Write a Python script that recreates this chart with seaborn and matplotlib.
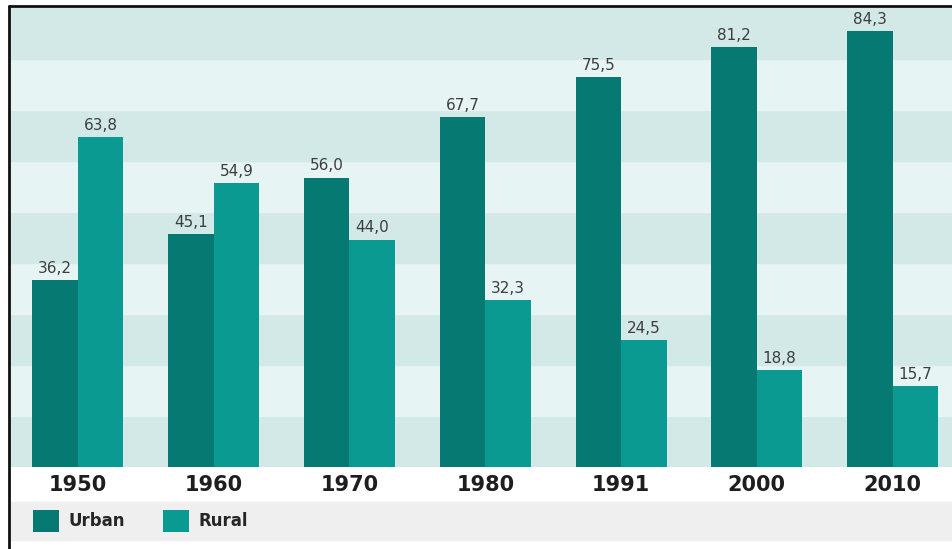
import numpy as np
import pandas as pd
import seaborn as sns
import matplotlib.pyplot as plt
from matplotlib.patches import Rectangle
from matplotlib.lines import Line2D

years = ['1950', '1960', '1970', '1980', '1991', '2000', '2010']
urban = [36.2, 45.1, 56.0, 67.7, 75.5, 81.2, 84.3]
rural = [63.8, 54.9, 44.0, 32.3, 24.5, 18.8, 15.7]
groups = ['Urban', 'Rural']

urban_color = '#067a72'
rural_color = '#0b9a91'
stripe_dark = '#d3e9e7'
stripe_light = '#e7f4f4'

df = pd.DataFrame({
    'year': years * 2,
    'value': urban + rural,
    'type': ['Urban'] * len(years) + ['Rural'] * len(years),
})

sns.set_theme(style='white')
plt.rcParams['font.family'] = ['Liberation Sans Narrow', 'DejaVu Sans']

fig = plt.figure(figsize=(9.52, 5.49), dpi=100)
ax = fig.add_axes([10 / 952, 1 - 467 / 549, 942 / 952, 459 / 549])

sns.barplot(data=df, x='year', y='value', hue='type', hue_order=groups,
            palette=[urban_color, rural_color], saturation=1, width=0.67,
            linewidth=0, ax=ax)

ymax = 88.8
ax.set_ylim(0, ymax)
ax.set_xlim(-0.5, 6.437)

# horizontal stripes behind the bars
n = 9
for i in range(n):
    ax.axhspan(ymax * i / n, ymax * (i + 1) / n,
               color=stripe_dark if i % 2 == 0 else stripe_light, zorder=0)

for cont in ax.containers:
    labels = [f'{v:.1f}'.replace('.', ',') for v in cont.datavalues]
    ax.bar_label(cont, labels=labels, padding=3, fontsize=11, color='#3d3d3d')

ax.set_xlabel('')
ax.set_ylabel('')
ax.set_yticks([])
ax.tick_params(axis='x', length=0, pad=6)
for t in ax.get_xticklabels():
    t.set_fontsize(15)
    t.set_fontweight('bold')
    t.set_color('#1e1e1e')
for s in ax.spines.values():
    s.set_visible(False)

# legend band
fig.patches.append(Rectangle((10 / 952, 1 - 540 / 549), 942 / 952, 38 / 549,
                             transform=fig.transFigure, color='#efefef', zorder=-5))
sns.move_legend(ax, 'center left', bbox_to_anchor=(18 / 952, 1 - 521 / 549),
                bbox_transform=fig.transFigure, ncol=2, frameon=False, title=None,
                handlelength=1.55, handleheight=1.6, handletextpad=0.6,
                columnspacing=2.25, prop={'size': 12, 'weight': 'bold'})
ax.get_legend().set_zorder(10)

# frame lines
fig.add_artist(Line2D([8.5 / 952, 8.5 / 952], [0, 1 - 6 / 549], color='#111111', lw=2))
fig.add_artist(Line2D([8.5 / 952, 1], [1 - 6 / 549, 1 - 6 / 549], color='#111111', lw=2))

fig.savefig('out.png', dpi=100)
